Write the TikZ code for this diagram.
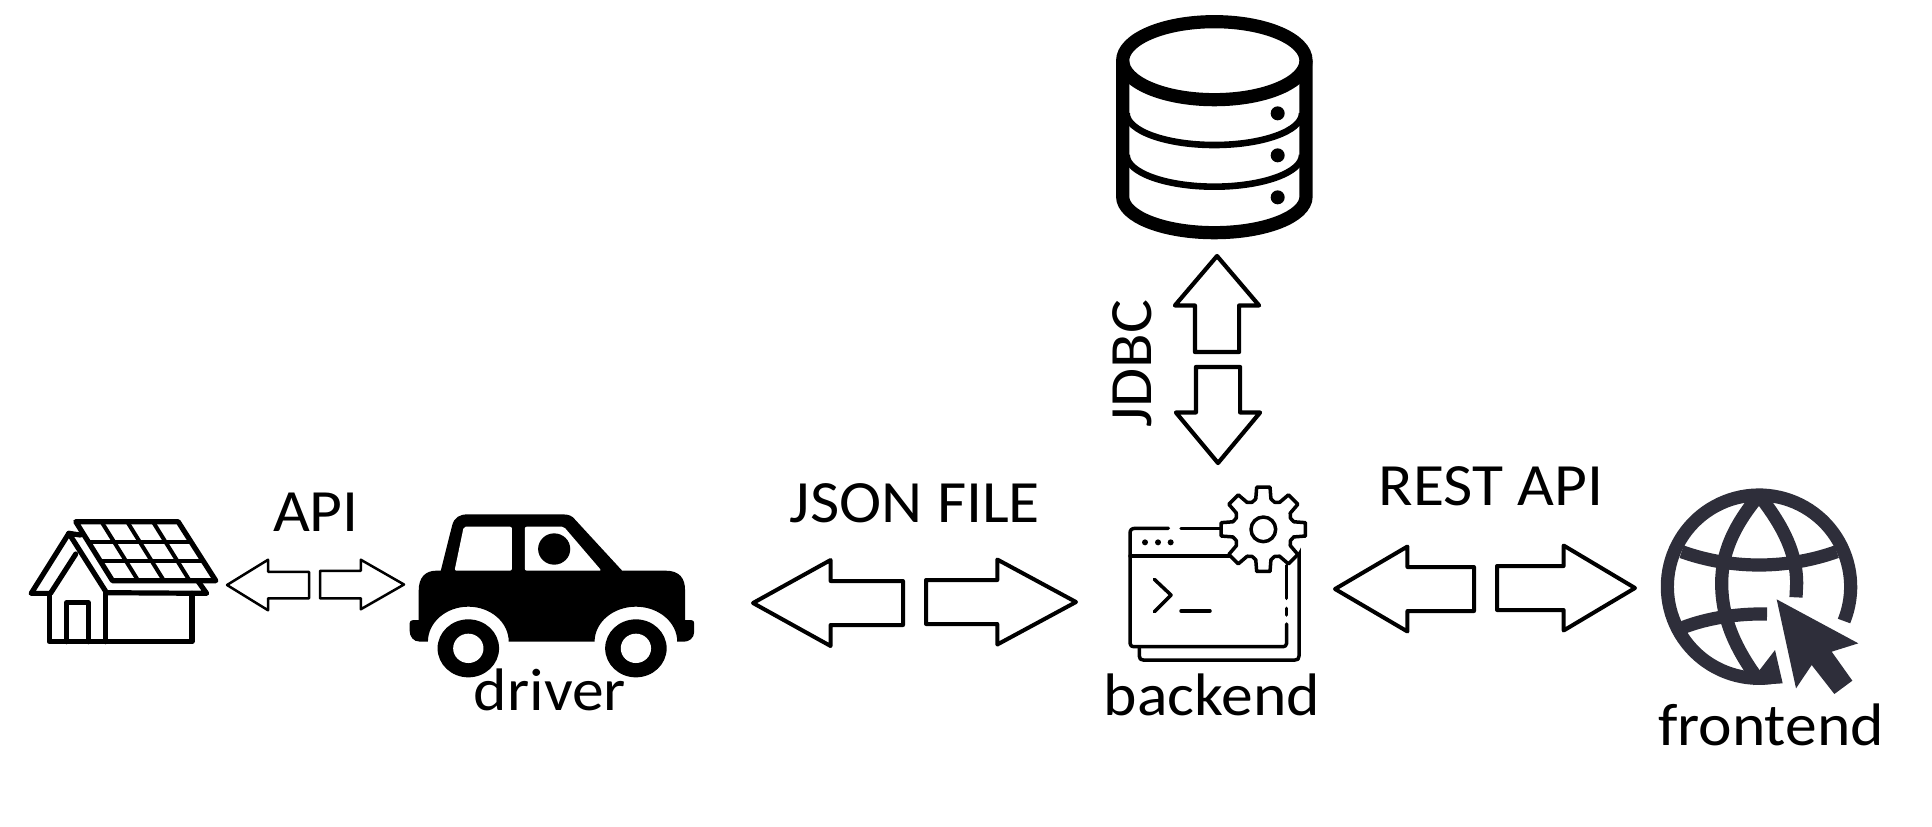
\documentclass[tikz,border=0pt]{standalone}
\usepackage{fontspec}
\setmainfont{Carlito}
\usetikzlibrary{shapes.arrows}
\definecolor{globeink}{HTML}{2E2E3A}
\tikzset{
  label text/.style={inner sep=0pt,anchor=base,font=\fontsize{30}{36}\selectfont,xscale=1.06,transform shape},
  barrow/.style n args={4}{single arrow,draw=black,fill=white,outer sep=0pt,inner xsep=0pt,
    inner ysep=#2*0.25pt,minimum height=#1*0.5pt,minimum width=#3*0.5pt,
    single arrow head extend=(#3-#2)*0.25pt,
    single arrow tip angle={2*atan(#3/(2*#4))},anchor=tail,line join=round},
  ref1/.style={x=0.22957pt,y=-0.16667pt},
  ref3/.style={x=0.16667pt,y=-0.16667pt},
}
\begin{document}
\begin{tikzpicture}[x=0.5pt,y=-0.5pt]
\useasboundingbox (0,0) rectangle (1932,826);

% ---------- house
\begin{scope}[shift={(0,480)},ref1,line width=2.6pt,line join=round,line cap=round]
  \draw (165,125) -- (388,125) -- (470,302) -- (245,302) -- cycle;
  \draw[line width=2pt] (193,185) -- (416,185) (220,243) -- (443,243);
  \draw[line width=2pt] (221,125) -- (301,302) (277,125) -- (357,302) (333,125) -- (413,302);
  \draw (150,160) -- (68,340) -- (110,340) -- (165,222);
  \draw (150,160) -- (175,165);
  \draw (150,160) -- (232,338) -- (450,340) -- (432,305);
  \draw (107,340) -- (107,485) -- (418,485) -- (418,340);
  \draw (230,338) -- (230,485);
  \draw (145,485) -- (145,368) -- (192,368) -- (192,485);
\end{scope}

% ---------- car
\begin{scope}[shift={(0,480)},ref1]
  \fill (985,135) .. controls (990,112) and (1000,103) .. (1020,103) -- (1225,103)
    .. controls (1240,103) and (1246,108) .. (1252,118) -- (1355,272) -- (1450,272)
    .. controls (1480,272) and (1492,295) .. (1492,330) -- (1492,420) -- (1505,420)
    .. controls (1510,420) and (1512,424) .. (1512,430) -- (1512,455)
    .. controls (1512,475) and (1500,485) .. (1490,485) -- (1475,485)
    arc[start angle=0,end angle=-180,x radius=90,y radius=105]
    -- (1108,485)
    arc[start angle=0,end angle=-180,x radius=88,y radius=105]
    -- (915,485) .. controls (900,485) and (892,470) .. (892,450) -- (892,430)
    .. controls (892,424) and (895,420) .. (900,420) -- (912,420) -- (912,330)
    .. controls (912,295) and (925,272) .. (950,272) -- (960,272) -- cycle;
  \fill[white,rounded corners=1pt] (1010,140) -- (1115,140) -- (1115,272) -- (990,272) -- cycle;
  \fill[white,rounded corners=1pt] (1143,140) -- (1228,140) -- (1310,272) -- (1143,272) -- cycle;
  \fill (1207,207) ellipse [x radius=35,y radius=47];
  \fill (1020,505) ellipse [x radius=67,y radius=87];
  \fill (1385,505) ellipse [x radius=67,y radius=87];
  \fill[white] (1020,505) ellipse [x radius=33,y radius=44];
  \fill[white] (1385,505) ellipse [x radius=33,y radius=44];
\end{scope}

% ---------- database
\begin{scope}[shift={(1080,0)},ref3,line width=6.6pt]
  \draw (403,182) ellipse [x radius=275,y radius=117];
  \draw (128,182) -- (128,590) arc[start angle=180,end angle=0,x radius=275,y radius=108] -- (678,182);
  \draw[line width=3.3pt] (140,340) arc[start angle=180,end angle=0,x radius=263,y radius=95];
  \draw[line width=3.3pt] (140,465) arc[start angle=180,end angle=0,x radius=263,y radius=95];
  \foreach \dy in {340,466,592} \fill (593,\dy) circle [radius=21];
\end{scope}

% ---------- backend icon
\begin{scope}[shift={(1100,470)},ref3,line width=1.75pt,line cap=round,line join=round]
  \draw (205,175) -- (105,175) .. controls (95,175) and (90,180) .. (90,190) -- (90,520)
     .. controls (90,527) and (95,530) .. (105,530) -- (545,530) .. controls (555,530) and (560,527) .. (560,520) -- (560,462);
  \draw (243,175) -- (360,175);
  \draw (90,258) -- (395,258);
  \draw (560,415) -- (560,435);
  \draw (560,385) -- (560,285);
  \foreach \dx in {135,174,212} \fill (\dx,217) circle [radius=9];
  \draw (163,328) -- (213,375) -- (163,425);
  \draw (243,423) -- (330,423);
  \draw (118,535) -- (118,558) .. controls (118,567) and (122,570) .. (130,570) -- (585,570)
     .. controls (593,570) and (597,567) .. (597,558) -- (597,230) .. controls (597,222) and (593,218) .. (582,218);
  \begin{scope}[shift={(490,178)}]
    \fill[white] (0,0) circle [radius=125];
    \draw (0,0) circle [radius=37];
    \foreach \a in {0,45,...,315}
      \draw (\a-14:94) -- (\a-9:128) -- (\a+9:128) -- (\a+14:94) -- (\a+22.5:88) -- (\a+31:94);
  \end{scope}
\end{scope}

% ---------- globe
\begin{scope}[shift={(1640,470)},ref3,draw=globeink,line width=6.6pt]
  \draw[globeink] plot[domain=-22:283,samples=90] ({357+275*cos(\x)},{350-275*sin(\x)});
  \draw[globeink] (352,82) .. controls (280,170) and (245,250) .. (245,340)
     .. controls (245,450) and (290,540) .. (352,625);
  \draw[globeink] (362,82) .. controls (430,170) and (470,250) .. (470,340) -- (468,382);
  \fill[globeink] (405,540) -- (428,640) -- (340,645) -- (355,605) -- cycle;
  \draw[globeink] (125,245) .. controls (200,272) and (280,285) .. (357,285)
     .. controls (440,285) and (520,270) .. (590,245);
  \draw[globeink] (130,472) .. controls (200,445) and (290,430) .. (381,432);
  \fill[globeink] (410,388) -- (655,520) -- (575,545) -- (637,632) -- (583,672) -- (515,585) -- (468,655) -- cycle;
\end{scope}

% ---------- block arrows
\node[barrow={82}{24}{48}{39},line width=1.25pt,rotate=180] (apiL) at (309,585) {};
\node[barrow={84}{25}{47}{41},line width=1.25pt] (apiR) at (320,584.5) {};
\node[barrow={150}{40}{82}{74},line width=2pt,rotate=180] (jsonL) at (903,603) {};
\node[barrow={150}{40}{81}{75},line width=2pt] (jsonR) at (926,602) {};
\node[barrow={139}{40}{81}{69},line width=2pt,rotate=180] (restL) at (1474,589) {};
\node[barrow={138}{40}{81}{68},line width=2pt] (restR) at (1497,588) {};
\node[barrow={96}{40}{80}{47},line width=2.1pt,rotate=90] (jdbcU) at (1217,352) {};
\node[barrow={96}{40}{80}{48},line width=2.1pt,rotate=-90] (jdbcD) at (1218,367) {};

% ---------- labels
\node[label text] (apilabel) at (316,531) {API};
\node[label text] (driverlabel) at (550,710) {driver};
\node[label text] (jsonlabel) at (915,522) {JSON FILE};
\node[label text] (backendlabel) at (1212,715) {backend};
\node[label text] (restlabel) at (1491,505) {REST API};
\node[label text] (frontendlabel) at (1771,745) {frontend};
\node[rotate=90,label text] (jdbclabel) at (1151,364) {JDBC};
\end{tikzpicture}
\end{document}
